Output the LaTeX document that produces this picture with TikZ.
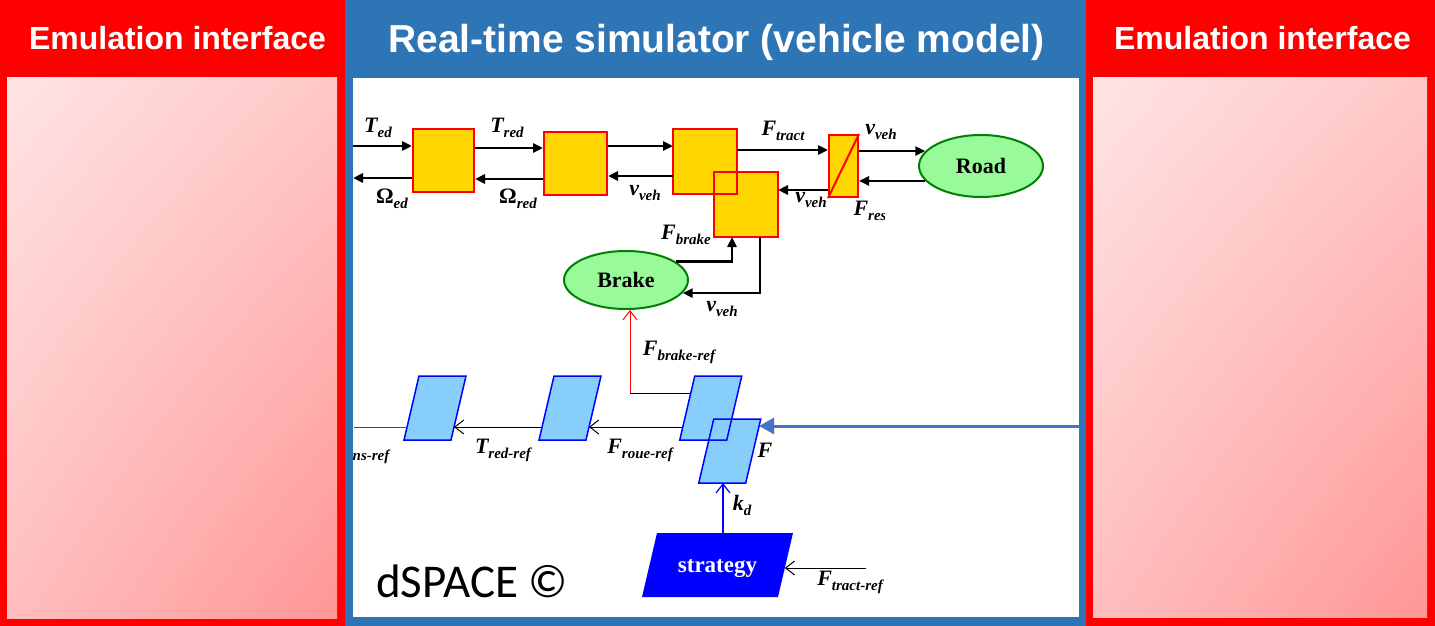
\documentclass[tikz,border=0pt]{standalone}
\usepackage{fontspec}
\setmainfont{Liberation Serif}
\newfontfamily\hdfont{Liberation Sans}
\newfontfamily\calfont{Carlito}
\usetikzlibrary{shapes.geometric,arrows.meta,calc,shadings}

\definecolor{panelred}{RGB}{255,0,0}
\definecolor{panelblue}{RGB}{46,117,182}
\definecolor{gold}{RGB}{255,214,0}
\definecolor{ltgreen}{RGB}{153,250,153}
\definecolor{dkgreen}{RGB}{0,128,0}
\definecolor{ltblue}{RGB}{135,206,250}
\definecolor{arrowblue}{RGB}{68,114,196}
\definecolor{pinkTL}{RGB}{255,228,228}
\definecolor{pinkTR}{RGB}{255,200,200}
\definecolor{pinkBL}{RGB}{255,190,190}
\definecolor{pinkBR}{RGB}{255,150,150}

% signal label: bold italic symbol with a lowered bold italic index
\newcommand{\sig}[2]{{\fontsize{22}{22}\selectfont\bfseries\itshape #1}\raisebox{-5pt}{\fontsize{15}{15}\selectfont\bfseries\itshape #2}}
\newcommand{\gsig}[2]{{\fontsize{22}{22}\selectfont\bfseries #1}\raisebox{-5pt}{\fontsize{15}{15}\selectfont\bfseries\itshape #2}}
% parallelogram drawn over an invisible rectangular node
\newcommand{\parapath}[2]{\path[#2] ([xshift=7.5pt]#1.north west) -- ([xshift=7.5pt]#1.north east) -- ([xshift=-7.5pt]#1.south east) -- ([xshift=-7.5pt]#1.south west) -- cycle;}

\begin{document}
\begin{tikzpicture}[x=1pt,y=-1pt,
  yblk/.style={draw=red, fill=gold, line width=2pt, inner sep=0pt},
  ell/.style={ellipse, draw=dkgreen, fill=ltgreen, line width=2pt, inner sep=0pt,
    font=\fontsize{22}{22}\selectfont\bfseries},
  port/.style={inner sep=0pt, outer sep=0pt},
  arr/.style={line width=2.8pt, -{Triangle[length=10pt,width=9pt]}},
  thinarr/.style={line width=1pt, -{Straight Barb[length=9pt,width=14pt]}},
  redarr/.style={red, line width=1pt, -{Straight Barb[length=9pt,width=14pt]}},
  bluethin/.style={blue, line width=1.2pt, -{Straight Barb[length=9pt,width=14pt]}},
  bluearr/.style={arrowblue, line width=3pt, -{Triangle[length=15pt,width=16pt]}},
  pfill/.style={fill=ltblue},
  pdraw/.style={draw=blue, line width=1.5pt},
  lbl/.style={inner sep=0pt},
  head/.style={text=white, font=\hdfont\bfseries\fontsize{32}{32}\selectfont, anchor=base}
]
\useasboundingbox (0,0) rectangle (1435,626);

% ---- panels ----
\fill[panelred] (0,0) rectangle (345,626);
\shade[upper left=pinkTL, upper right=pinkTR, lower left=pinkBL, lower right=pinkBR] (7,78) rectangle (337,618);
\fill[panelblue] (345,0) rectangle (1086,626);
\fill[white] (353,78) rectangle (1079,617);
\fill[panelred] (1086,0) rectangle (1435,626);
\shade[upper left=pinkTL, upper right=pinkTR, lower left=pinkBL, lower right=pinkBR] (1093,78) rectangle (1427,617);

\node[head] (hl) at (177.5,50) {Emulation interface};
\node[head, font=\hdfont\bfseries\fontsize{39}{39}\selectfont] (hm) at (716.5,53) {Real-time simulator (vehicle model)};
\node[head] (hr) at (1262.5,50) {Emulation interface};

% ---- vehicle model blocks ----
\node[yblk, minimum width=61pt, minimum height=63pt] (b1) at (443.5,160.5) {};
\node[yblk, minimum width=63pt, minimum height=63pt] (b2) at (575.5,163.5) {};
\node[yblk, draw=none, minimum width=62pt, minimum height=63pt] (b3) at (705,161.5) {};
\node[yblk, draw=none, minimum width=62pt, minimum height=63pt] (b4) at (746,204.5) {};
\draw[red, line width=2pt] (b3.south west) rectangle (b3.north east);
\draw[red, line width=2pt] (b4.south west) rectangle (b4.north east);
\node[yblk, minimum width=29pt, minimum height=62pt] (nr) at (843.5,166) {};
\draw[red, line width=2pt] (nr.south west) -- (nr.north east);
\node[ell, minimum width=124pt, minimum height=62pt] (road) at (981,166) {Road};
\node[ell, minimum width=124pt, minimum height=58pt] (brake) at (626,280) {Brake};

% ---- reference chain ----
\node[port, minimum width=47pt, minimum height=64pt] (p1) at (435,408) {};
\node[port, minimum width=47pt, minimum height=64pt] (p2) at (570,408) {};
\node[port, minimum width=47pt, minimum height=64pt] (p3) at (710.75,408) {};
\node[port, minimum width=47pt, minimum height=64pt] (p4) at (729.75,451) {};
\node[port, minimum width=136pt, minimum height=64pt] (strat) at (717.5,565) {};
\parapath{p1}{pfill, pdraw}
\parapath{p2}{pfill, pdraw}
\parapath{p3}{pfill}
\parapath{p4}{pfill}
\parapath{p3}{pdraw}
\parapath{p4}{pdraw}
\parapath{strat}{fill=blue}
\node[text=white, font=\fontsize{23}{23}\selectfont\bfseries] (stxt) at (717.5,569) {strategy};

% ---- connectors, vehicle model ----
\coordinate (tedL) at (353,146);
\coordinate (omL) at (353,178);
\draw[arr] (tedL) -- (tedL -| b1.west);
\draw[arr] (omL -| b1.west) -- (omL);
\draw[arr] ([yshift=12.5pt]b1.east) -- ([yshift=15.5pt]b2.west);
\draw[arr] ([yshift=-15.5pt]b2.west) -- ([yshift=-18.5pt]b1.east);
\draw[arr] ([yshift=17.5pt]b2.east) -- ([yshift=15.5pt]b3.west);
\draw[arr] ([yshift=-14.5pt]b3.west) -- ([yshift=-12.5pt]b2.east);
\draw[arr] ([yshift=11.5pt]b3.east) -- ([yshift=16pt]nr.west);
\draw[arr] (nr.east |- road.165) -- (road.165);
\draw[arr] (road.195) -- (road.195 -| nr.east);
\draw[arr] ([yshift=-24pt]nr.west) -- ([yshift=14.5pt]b4.east);
\draw[arr] (brake.20) -| ([xshift=-14pt]b4.south);
\draw[arr] ([xshift=14pt]b4.south) |- (brake.-13);

% ---- connectors, reference chain ----
\coordinate (bref) at (630,393);
\draw[line width=1pt] ([xshift=3.5pt,yshift=15pt]p3.west) -- (bref);
\draw[redarr] (bref) -- ([xshift=4pt]brake.south);
\coordinate (redL) at (354,427);
\draw[red, line width=1pt] (redL) -- ([xshift=-4.5pt,yshift=-19pt]p1.west);
\draw[thinarr] ([xshift=-4.5pt,yshift=-19pt]p2.west) -- ([xshift=-4.5pt,yshift=-19pt]p1.east);
\draw[thinarr] ([xshift=-4.5pt,yshift=-19pt]p3.west) -- ([xshift=-4.5pt,yshift=-19pt]p2.east);
\coordinate (bR) at (1080,426);
\draw[bluearr] (bR) -- ([xshift=5.9pt,yshift=25pt]p4.east);
\draw[bluethin] ([xshift=5.5pt]strat.north) -- ([xshift=-6.75pt]p4.south);
\coordinate (ftr) at (866,568);
\draw[thinarr] (ftr) -- ([xshift=-0.7pt,yshift=-3pt]strat.east);

% ---- signal labels ----
\node[lbl] (lted) at (378,128) {\sig{T}{ed}};
\node[lbl] (loed) at (392,199) {\gsig{Ω}{ed}};
\node[lbl] (ltred) at (507,128) {\sig{T}{red}};
\node[lbl] (lored) at (518,199) {\gsig{Ω}{red}};
\node[lbl] (lv1) at (645,193) {\sig{v}{veh}};
\node[lbl] (lft) at (783,131) {\sig{F}{tract}};
\node[lbl] (lv2) at (881,132) {\sig{v}{veh}};
\node[lbl] (lv3) at (811,200) {\sig{v}{veh}};
\begin{scope}
  \clip (840,195) rectangle (884,232);
  \node[lbl] (lfres) at (870,211) {\sig{F}{res}};
\end{scope}
\node[lbl] (lfb) at (686,235) {\sig{F}{brake}};
\node[lbl] (lv4) at (722,309) {\sig{v}{veh}};
\node[lbl] (lfbr) at (679,352) {\sig{F}{brake-ref}};
\node[lbl] (lns) at (371,457) {\fontsize{15}{15}\selectfont\bfseries\itshape ns-ref};
\node[lbl] (ltrr) at (503,450) {\sig{T}{red-ref}};
\node[lbl] (lfrr) at (640,450) {\sig{F}{roue-ref}};
\node[lbl] (lfx) at (765,453) {\sig{F}{}};
\node[lbl] (lkd) at (742,505) {\sig{k}{d}};
\node[lbl] (lftr) at (850,582) {\sig{F}{tract-ref}};
\node[inner sep=0pt, anchor=base west, font=\calfont\fontsize{47}{47}\selectfont] (ds) at (376,597) {dSPACE ©};
\end{tikzpicture}
\end{document}
